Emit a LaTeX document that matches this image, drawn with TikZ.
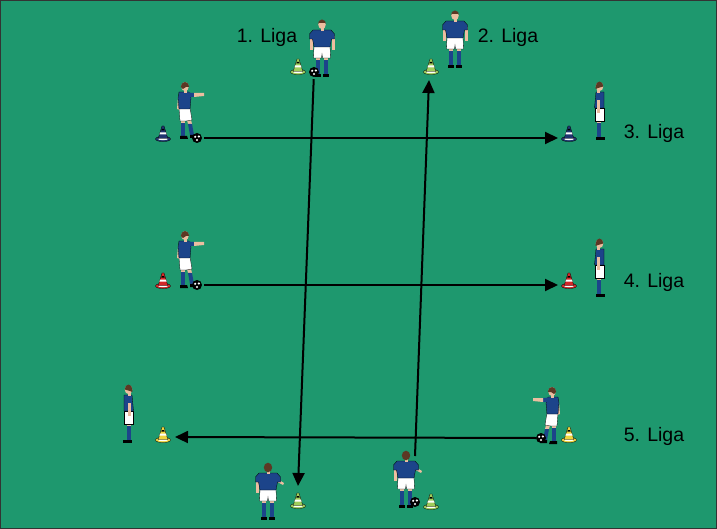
\documentclass[tikz,border=0pt]{standalone}
\usepackage{fontspec}
\setmainfont{Liberation Sans}
\usetikzlibrary{arrows.meta}
\definecolor{field}{RGB}{30,152,110}
\definecolor{shirt}{RGB}{28,68,138}
\definecolor{skin}{RGB}{236,190,160}
\definecolor{hair}{RGB}{92,56,36}
\definecolor{cgreen}{RGB}{160,205,90}
\definecolor{cnavy}{RGB}{32,52,112}
\definecolor{cred}{RGB}{212,40,40}
\definecolor{cyellow}{RGB}{238,212,62}
\tikzset{
  outl/.style={draw=black,line width=0.3},
  lbl/.style={font=\fontsize{19.5}{21}\selectfont,text=black,inner sep=0},
  arr/.style={line width=2,-{Triangle[length=13,width=12]}},
  ball/.style={circle,fill=black,minimum size=10,inner sep=0,
    path picture={\fill[white] ([shift={(-1.8,-1.2)}]path picture bounding box.center) circle (1.2);
                  \fill[white] ([shift={(1.8,-1.5)}]path picture bounding box.center) circle (1.2);
                  \fill[white] ([shift={(0,2)}]path picture bounding box.center) circle (1.2);}},
  pics/cone/.style={code={
    \filldraw[outl,fill=#1] (0,-2) ellipse (7.5 and 2.6);
    \fill[white] (0,-2.3) ellipse (5.2 and 1.5);
    \filldraw[outl,fill=#1] (-4.8,-2.5) -- (-1,-15) -- (1,-15) -- (4.8,-2.5) -- cycle;
    \fill[white] (-3.6,-6.5) -- (3.6,-6.5) -- (3,-8.5) -- (-3,-8.5) -- cycle;
    \fill[black] (-1.6,-10.5) -- (1.6,-10.5) -- (1.2,-12) -- (-1.2,-12) -- cycle;
  }},
  pics/plfront/.style={code={
    \fill[shirt] (-6,-17) rectangle (-2,-3);
    \fill[shirt] (2,-17) rectangle (6,-3);
    \fill[skin] (-6,-20) rectangle (-2,-17);
    \fill[skin] (2,-20) rectangle (6,-17);
    \fill[black] (-7,-3) rectangle (-1,0);
    \fill[black] (1,-3) rectangle (7,0);
    \filldraw[outl,fill=white] (-8,-31) -- (8,-31) -- (8.5,-19) -- (0.5,-19) -- (0,-23) -- (-0.5,-19) -- (-8.5,-19) -- cycle;
    \fill[skin] (-12.5,-41) rectangle (-9.5,-27);
    \fill[skin] (9.5,-41) rectangle (12.5,-27);
    \filldraw[outl,fill=shirt] (-9,-47) -- (9,-47) -- (12.5,-43) -- (12.5,-38) -- (9.5,-38) -- (8,-30) -- (-8,-30) -- (-9.5,-38) -- (-12.5,-38) -- (-12.5,-43) -- cycle;
    \fill[skin] (-1.5,-49) rectangle (1.5,-46);
    \fill[skin] (0,-52.5) ellipse (3.8 and 4.5);
    \fill[hair] (-4.2,-52.5) arc (180:360:4.2 and 5) -- (3.5,-54) -- (-3.5,-54) -- cycle;
  }},
  pics/plback/.style={code={
    \fill[shirt] (-6,-17) rectangle (-2,-3);
    \fill[shirt] (2,-17) rectangle (6,-3);
    \fill[skin] (-6,-20) rectangle (-2,-17);
    \fill[skin] (2,-20) rectangle (6,-17);
    \fill[black] (-7,-3) rectangle (-1,0);
    \fill[black] (1,-3) rectangle (7,0);
    \filldraw[outl,fill=white] (-8,-31) -- (8,-31) -- (8.5,-19) -- (0.5,-19) -- (0,-23) -- (-0.5,-19) -- (-8.5,-19) -- cycle;
    \fill[skin] (-12.5,-41) rectangle (-9.5,-27);
    \fill[skin] (9.5,-41) -- (16,-37) -- (15,-35) -- (9.5,-38) -- cycle;
    \filldraw[outl,fill=shirt] (-9,-47) -- (9,-47) -- (12.5,-43) -- (12.5,-38) -- (9.5,-38) -- (8,-30) -- (-8,-30) -- (-9.5,-38) -- (-12.5,-38) -- (-12.5,-43) -- cycle;
    \fill[skin] (-1.5,-49) rectangle (1.5,-46);
    \fill[hair] (0,-52.5) ellipse (4.2 and 4.8);
  }},
  pics/plside/.style={code={
    \fill[shirt] (-2,-17) rectangle (2,-3);
    \fill[skin] (-2,-20) rectangle (2,-17);
    \fill[black] (-6,-3) -- (3,-3) -- (3,0) -- (-6,0) -- cycle;
    \filldraw[outl,fill=white] (-5,-32) rectangle (4,-19);
    \filldraw[outl,fill=shirt] (-5,-48) -- (3,-48) -- (4.5,-32) -- (-5,-32) -- cycle;
    \fill[skin] (-1,-41) rectangle (2,-27);
    \fill[shirt] (-1.5,-47) rectangle (2.5,-40);
    \fill[skin] (-1,-50) rectangle (2,-47);
    \fill[skin] (-0.5,-53.5) ellipse (3.8 and 4.5);
    \fill[hair] (-4.3,-53.5) arc (180:360:3.8 and 5) -- (3.3,-51) -- (1,-52) -- cycle;
  }},
  pics/plkick/.style={code={
    \fill[shirt] (-4,-17) rectangle (0,-4);
    \fill[skin] (-4,-20) rectangle (0,-17);
    \fill[black] (-5,-4) -- (2,-4) -- (3,-1) -- (-5,-1) -- cycle;
    \fill[skin] (2,-20) -- (6,-20) -- (7,-16) -- (3,-16) -- cycle;
    \fill[shirt] (3,-16) -- (7,-16) -- (9,-5) -- (5,-5) -- cycle;
    \fill[black] (5,-5) -- (11,-5) -- (12,-2) -- (5,-2) -- cycle;
    \filldraw[outl,fill=white] (-6,-32) -- (5,-32) -- (7,-20) -- (1,-19) -- (-5,-19) -- cycle;
    \fill[skin] (-7,-43) -- (-4,-43) -- (-5,-30) -- (-8,-31) -- cycle;
    \filldraw[outl,fill=shirt] (-6,-48) -- (4,-48) -- (6,-42) -- (5,-31) -- (-6,-31) -- (-7,-42) -- cycle;
    \fill[shirt] (2,-47.5) -- (9,-47) -- (9,-43) -- (3,-43) -- cycle;
    \fill[skin] (9,-47) -- (19,-47) -- (19,-44) -- (9,-43) -- cycle;
    \fill[skin] (-1.5,-50) rectangle (1.5,-47);
    \fill[skin] (0,-53.5) ellipse (3.8 and 4.5);
    \fill[hair] (-4.2,-53) arc (180:360:4.2 and 5) -- (1,-53) -- (-2,-51) -- cycle;
  }},
}
\begin{document}
\begin{tikzpicture}[x=1pt,y=-1pt]
  \useasboundingbox (0,0) rectangle (717,529);
  \fill[field] (0,0) rectangle (717,529);
  \draw[black!80,line width=1] (0.5,0.5) rectangle (716.5,528.5);

  % labels
  \node[lbl] (l1) at (267,37) {1. Liga};
  \node[lbl] (l2) at (508,37) {2. Liga};
  \node[lbl] (l3) at (654,133) {3. Liga};
  \node[lbl] (l4) at (654,282) {4. Liga};
  \node[lbl] (l5) at (654,436) {5. Liga};

  % cones
  \pic (c1) at (298,74) {cone=cgreen};
  \pic (c2) at (431,74) {cone=cgreen};
  \pic (c3l) at (163,141) {cone=cnavy};
  \pic (c3r) at (569,141) {cone=cnavy};
  \pic (c4l) at (163,288) {cone=cred};
  \pic (c4r) at (569,288) {cone=cred};
  \pic (c5l) at (163,442) {cone=cyellow};
  \pic (c5r) at (569,442) {cone=cyellow};
  \pic (c6) at (298,508) {cone=cgreen};
  \pic (c7) at (431,509) {cone=cgreen};

  % players
  \pic (p1) at (322,77) {plfront};
  \pic (p2) at (455,68) {plfront};
  \pic (p3l) at (185,140) {plkick};
  \pic[xscale=-1] (p3r) at (599,140) {plside};
  \pic (p4l) at (185,289) {plkick};
  \pic[xscale=-1] (p4r) at (599,297) {plside};
  \pic (p5l) at (129,443) {plside};
  \pic[xscale=-1] (p5r) at (552,445) {plkick};
  \pic (pa) at (268,520) {plback};
  \pic (pb) at (406,508) {plback};

  % balls
  \node[ball] (b1) at (314,72) {};
  \node[ball] (b3) at (197,138) {};
  \node[ball] (b4) at (197,285) {};
  \node[ball] (b5) at (541,438) {};
  \node[ball] (b7) at (415,502) {};

  % arrow end points
  \coordinate (t1) at (298,486);
  \coordinate (s2) at (415,456);
  \coordinate (t2) at (429,80);
  \coordinate (t3) at (558,138);
  \coordinate (t4) at (558,285);
  \coordinate (t5) at (175,437);

  \draw[arr,shorten <=2] (b1) -- (t1);
  \draw[arr] (s2) -- (t2);
  \draw[arr,shorten <=2] (b3.east) -- (t3);
  \draw[arr,shorten <=2] (b4.east) -- (t4);
  \draw[arr] (b5.west) -- (t5);
\end{tikzpicture}
\end{document}
